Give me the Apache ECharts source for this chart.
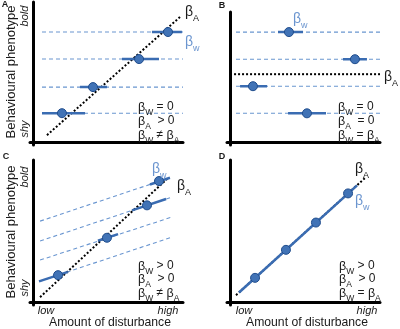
<!DOCTYPE html>
<html>
<head>
<meta charset="utf-8">
<script src="https://cdn.jsdelivr.net/npm/echarts@6/dist/echarts.min.js"></script>
<style>
  html, body { margin: 0; background: #fff; }
  #chart { width: 400px; height: 329px; }
</style>
</head>
<body>
<div id="chart"></div>
<script>
// x = amount of disturbance (0-10), y = behavioural phenotype (0-10)

// panel A
const aLevels = [7.86, 5.93, 3.93, 2.07];
const aDashX = [0.6, 10];
const aPointX = [9.0, 7.07, 4.0, 1.93];
const aSegX = [[7.93, 9.93], [5.93, 8.4], [3.13, 4.93], [0.6, 3.47]];
const aMean = [[0.93, 0.5], [9.8, 8.93]];

// panel B
const bLevels = [8.46, 6.38, 4.31, 2.23];
const bDashX = [0.4, 10];
const bPointX = [3.93, 8.33, 1.53, 5.13];
const bSegX = [[3.2, 4.87], [7.53, 9.13], [0.67, 2.47], [3.87, 6.4]];
const bMean = [[0.27, 5.23], [10, 5.23]];

// panel C
const cLines = [
  [[0.47, 5.70], [9.27, 8.80]],
  [[0.47, 4.30], [9.27, 7.39]],
  [[0.47, 2.96], [9.27, 5.99]],
  [[0.47, 1.48], [9.27, 4.58]]
];
const cSegs = [
  [[7.8, 8.28], [9.13, 8.75]],
  [[6.6, 6.46], [8.87, 7.26]],
  [[4.33, 4.32], [5.67, 4.79]],
  [[0.4, 1.46], [2.33, 2.13]]
];
const cPoints = [[8.4, 8.52], [7.6, 6.81], [4.93, 4.53], [1.67, 1.9]];
const cMean = [[0.47, 0.35], [9.0, 8.73]];

// panel D
const dMean = [[0.4, 0.49], [9.07, 8.8]];
const dSeg = [[0.6, 0.68], [8.47, 8.22]];
const dPoints = [[7.87, 7.65], [5.73, 5.6], [3.73, 3.68], [1.67, 1.71]];

// text
const panelLetters = ['A', 'B', 'C', 'D'];
const statsA = ['{b|β}{s|W}{t| = 0}', '{b|β}{s|A}{t|  > 0}', '{b|β}{s|W}{t| ≠ }{b|β}{s|A}'];
const statsB = ['{b|β}{s|W}{t| = 0}', '{b|β}{s|A}{t|  = 0}', '{b|β}{s|W}{t| = }{b|β}{s|A}'];
const statsC = ['{b|β}{s|W}{t| > 0}', '{b|β}{s|A}{t|  > 0}', '{b|β}{s|W}{t| ≠ }{b|β}{s|A}'];
const statsD = ['{b|β}{s|W}{t| > 0}', '{b|β}{s|A}{t|  > 0}', '{b|β}{s|W}{t| = }{b|β}{s|A}'];

const FONT = 'Liberation Sans, Arial, sans-serif';
const DASH = '#6a96d0';
const SEG = '#3a6cb2';
const DOT_FILL = '#4173b6';
const DOT_EDGE = '#1f4c8c';
const LABEL_BLUE = '#6b95cf';
const INK = '#1a1a1a';

const chart = echarts.init(document.getElementById('chart'));

const grids = [
  { left: 30, top: 2, width: 153, height: 143 },
  { left: 227, top: 12, width: 153, height: 133 },
  { left: 30, top: 160, width: 153, height: 145 },
  { left: 227, top: 160, width: 153, height: 145 }
];

function axis(i) {
  return {
    type: 'value', gridIndex: i, min: -0.2, max: 10,
    axisLine: { lineStyle: { color: '#000', width: 3 } },
    axisTick: { show: false }, axisLabel: { show: false }, splitLine: { show: false }
  };
}

function dashed(i, data) {
  return { type: 'line', xAxisIndex: i, yAxisIndex: i, data: data, symbol: 'none', silent: true, z: 2,
    lineStyle: { color: DASH, width: 1.1, type: [4, 3] } };
}
function dotted(i, data) {
  return { type: 'line', xAxisIndex: i, yAxisIndex: i, data: data, symbol: 'none', silent: true, z: 3,
    lineStyle: { color: '#000', width: 2, type: [2, 2] } };
}
function seg(i, data) {
  return { type: 'line', xAxisIndex: i, yAxisIndex: i, data: data, symbol: 'none', silent: true, z: 4,
    lineStyle: { color: SEG, width: 2.5 } };
}
function dots(i, data) {
  return { type: 'scatter', xAxisIndex: i, yAxisIndex: i, data: data, symbolSize: 9, silent: true, z: 5,
    itemStyle: { color: DOT_FILL, borderColor: DOT_EDGE, borderWidth: 1, opacity: 1 } };
}

const series = [];
// A
aLevels.forEach(function (y, k) {
  series.push(dashed(0, [[aDashX[0], y], [aDashX[1], y]]));
  series.push(seg(0, [[aSegX[k][0], y], [aSegX[k][1], y]]));
});
series.push(dotted(0, aMean));
series.push(dots(0, aPointX.map(function (x, k) { return [x, aLevels[k]]; })));
// B
bLevels.forEach(function (y, k) {
  series.push(dashed(1, [[bDashX[0], y], [bDashX[1], y]]));
  series.push(seg(1, [[bSegX[k][0], y], [bSegX[k][1], y]]));
});
series.push(dotted(1, bMean));
series.push(dots(1, bPointX.map(function (x, k) { return [x, bLevels[k]]; })));
// C
cLines.forEach(function (l, k) {
  series.push(dashed(2, l));
  series.push(seg(2, cSegs[k]));
});
series.push(dotted(2, cMean));
series.push(dots(2, cPoints));
// D
series.push(dotted(3, dMean));
series.push(seg(3, dSeg));
series.push(dots(3, dPoints));

function makeRich(bSize, sSize, tSize, lh, color) {
  return {
    b: { fontFamily: FONT, fontSize: bSize, lineHeight: lh, verticalAlign: 'top', fill: color },
    t: { fontFamily: FONT, fontSize: tSize, lineHeight: lh, verticalAlign: 'top', fill: color },
    s: { fontFamily: FONT, fontSize: sSize, lineHeight: 10, verticalAlign: 'bottom', fill: color }
  };
}

function beta(x, y, sub, color) {
  return { type: 'text', x: x, y: y, z: 10,
    style: { text: '{b|β}{s|' + sub + '}', rich: makeRich(14, 9, 14, 18, color), fill: color,
      align: 'left', verticalAlign: 'middle' } };
}

function stats(x, ys, lines) {
  return lines.map(function (t, k) {
    return { type: 'text', x: x, y: ys[k], z: 10,
      style: { text: t, rich: makeRich(12.5, 8.5, 12, 16, INK), fill: INK, align: 'left', verticalAlign: 'middle' } };
  });
}

function vtext(x, y, text, size, italic) {
  return { type: 'text', x: x, y: y, rotation: Math.PI / 2, z: 10,
    style: { text: text, fill: INK, font: (italic ? 'italic ' : '') + size + 'px ' + FONT,
      align: 'center', verticalAlign: 'middle' } };
}
function htext(x, y, text, size, italic, weight) {
  return { type: 'text', x: x, y: y, z: 10,
    style: { text: text, fill: INK, font: (italic ? 'italic ' : '') + (weight || '') + ' ' + size + 'px ' + FONT,
      align: 'center', verticalAlign: 'middle' } };
}

let graphic = [
  htext(5, 5, panelLetters[0], 9, false, 'bold'),
  htext(222, 6, panelLetters[1], 9, false, 'bold'),
  htext(6, 157, panelLetters[2], 9, false, 'bold'),
  htext(222, 157, panelLetters[3], 9, false, 'bold'),
  vtext(11, 72, 'Behavioural phenotype', 13, false),
  vtext(25, 16, 'bold', 11, true),
  vtext(25, 129, 'shy', 11, true),
  vtext(11, 232, 'Behavioural phenotype', 13, false),
  vtext(25, 177, 'bold', 11, true),
  vtext(25, 288, 'shy', 11, true),
  htext(46, 311, 'low', 11, true),
  htext(168, 311, 'high', 11, true),
  htext(244, 311, 'low', 11, true),
  htext(367, 311, 'high', 11, true),
  htext(110, 323, 'Amount of disturbance', 12.2, false),
  htext(307, 323, 'Amount of disturbance', 12.2, false),
  beta(185, 14, 'A', INK),
  beta(185, 44, 'w', LABEL_BLUE),
  beta(293, 21, 'w', LABEL_BLUE),
  beta(384, 79, 'A', INK),
  beta(152, 171, 'w', LABEL_BLUE),
  beta(177, 188, 'A', INK),
  beta(355, 171, 'A', INK),
  beta(355, 203, 'w', LABEL_BLUE)
];
graphic = graphic
  .concat(stats(138, [109, 123, 137], statsA))
  .concat(stats(338, [109, 123, 137], statsB))
  .concat(stats(138, [268, 281, 295], statsC))
  .concat(stats(339, [268, 281, 295], statsD));

chart.setOption({
  animation: false,
  grid: grids,
  xAxis: [axis(0), axis(1), axis(2), axis(3)],
  yAxis: [axis(0), axis(1), axis(2), axis(3)],
  series: series,
  graphic: graphic
});
</script>
</body>
</html>
